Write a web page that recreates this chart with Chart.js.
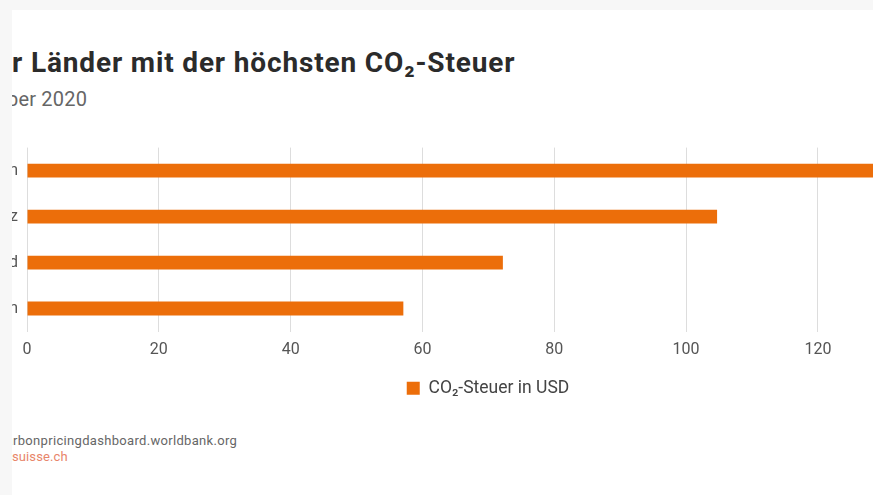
<!DOCTYPE html>
<html><head><meta charset="utf-8">
<script src="https://cdn.jsdelivr.net/npm/chart.js@4"></script>
<style>
html,body{margin:0;padding:0;background:#f7f7f7;width:873px;height:495px;overflow:hidden;font-family:Roboto,"DejaVu Sans",sans-serif;}
#card{position:absolute;left:12px;top:10px;width:900px;height:520px;background:#fff;overflow:hidden;}
.t{position:absolute;white-space:nowrap;}
.pre{position:absolute;right:100%;top:0;white-space:nowrap;}
#title{left:0;top:39px;font-size:28px;line-height:28px;font-weight:700;color:#2b2b2b;letter-spacing:0.85px;}
#sub{left:-5px;top:79px;font-size:20px;line-height:20px;color:#666;letter-spacing:0.2px;}
#src{left:1px;top:424px;font-size:13px;line-height:13px;color:#666;letter-spacing:0.32px;}
#cred{left:0;top:440px;font-size:13px;line-height:13px;color:#e8856a;letter-spacing:0.1px;}
#wrap{position:absolute;left:-118px;top:119px;width:1188px;height:278px;}
</style></head>
<body>
<div id="card">
  <div class="t" id="title"><span class="pre">Die vie</span>r Länder mit der höchsten CO₂-Steuer</div>
  <div class="t" id="sub"><span class="pre">Stand: Okto</span>ber 2020</div>
  <div id="wrap"><canvas id="c"></canvas></div>
  <div class="t" id="src"><span class="pre">Quelle: ca</span>rbonpricingdashboard.worldbank.org</div>
  <div class="t" id="cred"><span class="pre">Grafik: economie</span>suisse.ch</div>
</div>
<script>
const categories = ["Schweden", "Schweiz", "Finnland", "Norwegen"];
const taxUSD = [130.5, 104.7, 72.2, 57.1];
const seriesLabel = "CO₂-Steuer in USD";
const xTicks = [0, 20, 40, 60, 80, 100, 120, 140];

new Chart(document.getElementById('c'), {
  type: 'bar',
  data: {
    labels: categories,
    datasets: [{
      label: seriesLabel,
      data: taxUSD,
      backgroundColor: '#ec6e0a',
      borderWidth: 0,
      categoryPercentage: 1,
      barPercentage: 0.3
    }]
  },
  options: {
    indexAxis: 'y',
    responsive: true,
    maintainAspectRatio: false,
    animation: false,
    layout: { padding: { top: 6, left: 0, right: 0, bottom: 0 } },
    scales: {
      x: {
        min: 0, max: 158.7,
        ticks: {
          stepSize: 20,
          padding: 9,
          color: '#555',
          font: { family: 'Roboto', size: 16 },
          callback: v => xTicks.includes(v) ? String(v) : ''
        },
        grid: { color: '#dddddd', drawTicks: false, lineWidth: 1 },
        border: { display: false },
        afterFit: s => { s.height = 38; }
      },
      y: {
        ticks: { padding: 9, color: '#555', font: { family: 'Roboto', size: 16 } },
        grid: { display: false, drawTicks: false },
        border: { display: false },
        afterFit: s => { s.width = 133; }
      }
    },
    plugins: {
      legend: {
        position: 'bottom',
        labels: {
          boxWidth: 13, boxHeight: 13, padding: 10,
          color: '#444',
          font: { family: 'Roboto', size: 17.5 }
        }
      },
      tooltip: { enabled: false }
    }
  }
});
</script>
</body></html>
